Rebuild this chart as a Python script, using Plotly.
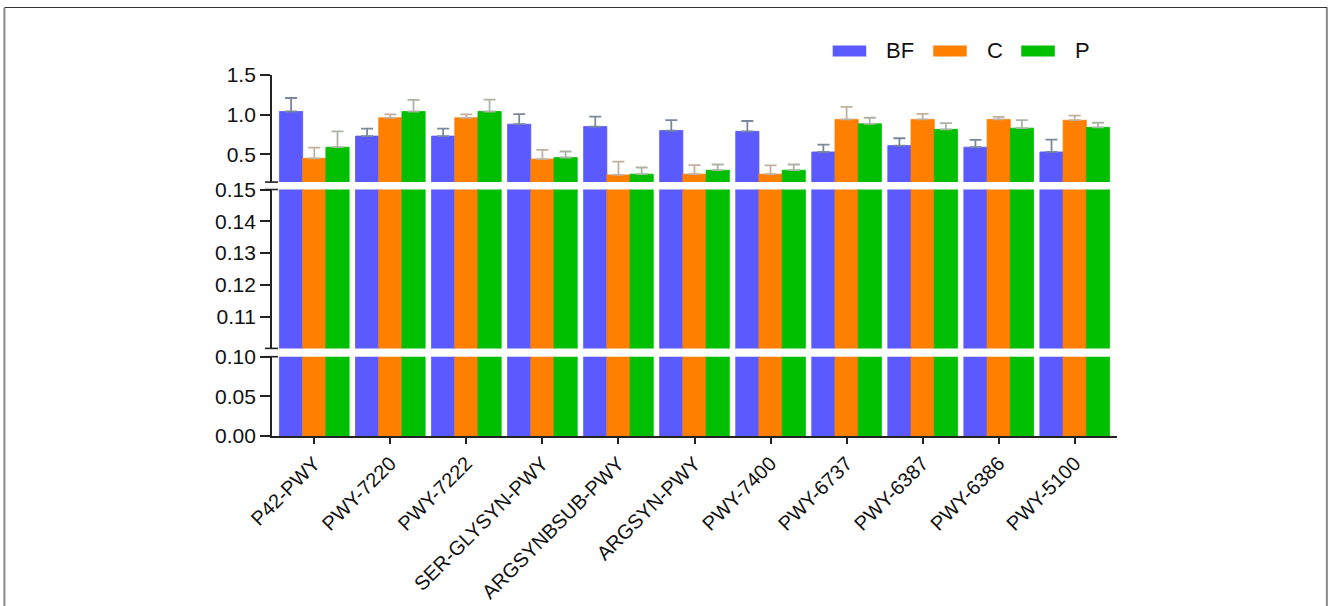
import plotly.graph_objects as go

# Pathway categories and group means / upper error (SD) per group
pathways = ["P42-PWY", "PWY-7220", "PWY-7222", "SER-GLYSYN-PWY", "ARGSYNBSUB-PWY",
            "ARGSYN-PWY", "PWY-7400", "PWY-6737", "PWY-6387", "PWY-6386", "PWY-5100"]

bf_mean = [1.04, 0.73, 0.73, 0.88, 0.85, 0.80, 0.79, 0.53, 0.61, 0.59, 0.53]
bf_err = [0.17, 0.095, 0.095, 0.126, 0.126, 0.131, 0.13, 0.092, 0.093, 0.092, 0.156]

c_mean = [0.45, 0.96, 0.96, 0.44, 0.24, 0.25, 0.25, 0.94, 0.94, 0.94, 0.93]
c_err = [0.135, 0.043, 0.043, 0.117, 0.169, 0.113, 0.11, 0.159, 0.07, 0.033, 0.059]

p_mean = [0.59, 1.04, 1.04, 0.46, 0.25, 0.30, 0.30, 0.885, 0.815, 0.83, 0.84]
p_err = [0.20, 0.146, 0.15, 0.076, 0.084, 0.072, 0.072, 0.076, 0.079, 0.101, 0.058]

groups = ["BF", "C", "P"]
means = [bf_mean, c_mean, p_mean]
errors = [bf_err, c_err, p_err]
colors = ["#5a5aff", "#ff7f00", "#00bf00"]
err_colors = ["#7a889c", "#c2b09e", "#aab4a4"]

FONT = "Liberation Sans, Arial, Helvetica, sans-serif"
W, H = 1328, 606
L, R, T, B = 272, 211.3, 75, 170
PW, PH = W - L - R, H - T - B


def px(x):
    return (x - L) / PW


def py(y):
    return (T + PH - y) / PH


xs = list(range(len(pathways)))

fig = go.Figure()
# three stacked panels of a broken y axis: y (0-0.10), y2 (0.10-0.15), y3 (0.15-1.5)
for yax in ["y", "y2", "y3"]:
    for g, m, e, c, ec in zip(groups, means, errors, colors, err_colors):
        err = None
        if yax == "y3":
            err = dict(type="data", array=e, symmetric=False,
                       arrayminus=[0] * len(e), color=ec, thickness=1.8, width=6)
        fig.add_trace(go.Bar(
            x=xs, y=m, name=g, xaxis="x", yaxis=yax,
            marker=dict(color=c, line=dict(color=c, width=0.8)),
            error_y=err, showlegend=False, offsetgroup=g,
        ))

axis_common = dict(showline=True, linecolor="#222", linewidth=1.8, ticks="outside",
                   ticklen=10, tickwidth=1.6, tickcolor="#222", showgrid=False,
                   zeroline=False, automargin=False,
                   tickfont=dict(family=FONT, size=21, color="#111"))

fig.update_layout(
    width=W, height=H,
    margin=dict(l=L, r=R, t=T, b=B),
    paper_bgcolor="white", plot_bgcolor="white",
    barmode="group", bargap=0.084, bargroupgap=0,
    xaxis=dict(range=[-0.556, 10.556], tickvals=xs, ticktext=pathways, tickangle=-45,
               showline=True, linecolor="#222", linewidth=1.8, ticks="outside",
               ticklen=6, tickwidth=1.5, tickcolor="#222", showgrid=False, zeroline=False,
               anchor="y", automargin=False,
               tickfont=dict(family=FONT, size=20, color="#111")),
    yaxis=dict(domain=[0, py(356.7)], range=[0, 0.10], tickvals=[0, 0.05, 0.10],
               tickformat=".2f", anchor="x", **axis_common),
    yaxis2=dict(domain=[py(348.4), py(189.5)], range=[0.10, 0.15],
                tickvals=[0.11, 0.12, 0.13, 0.14, 0.15], tickformat=".2f",
                anchor="x", **axis_common),
    yaxis3=dict(domain=[py(182.1), 1], range=[0.15, 1.5], tickvals=[0.5, 1.0, 1.5],
                tickformat=".1f", anchor="x", **axis_common),
)

shapes = []
# break marks on the y axis
for yb in [182.1, 189.5, 348.4, 356.7]:
    shapes.append(dict(type="line", xref="paper", yref="paper",
                       x0=px(265), x1=px(278), y0=py(yb), y1=py(yb),
                       line=dict(color="#222", width=1.6)))

# frame around the figure
shapes.append(dict(type="line", xref="paper", yref="paper", x0=px(4.5), x1=px(1327),
                   y0=py(7.5), y1=py(7.5), line=dict(color="#333", width=1.2)))
shapes.append(dict(type="line", xref="paper", yref="paper", x0=px(4.5), x1=px(4.5),
                   y0=py(8), y1=py(606), line=dict(color="#8a8a8a", width=2)))
shapes.append(dict(type="line", xref="paper", yref="paper", x0=px(1326.5), x1=px(1326.5),
                   y0=py(8), y1=py(606), line=dict(color="#8a8a8a", width=2)))

# legend swatches and labels
annotations = []
legend_items = [(832.5, 884), (933, 984.5), (1021, 1073)]
for (sx, tx), g, c in zip(legend_items, groups, colors):
    shapes.append(dict(type="rect", xref="paper", yref="paper",
                       x0=px(sx), x1=px(sx + 33.5), y0=py(56.5), y1=py(45.5),
                       fillcolor=c, line=dict(width=0)))
    annotations.append(dict(xref="paper", yref="paper", x=px(tx), y=py(51),
                            text=g, showarrow=False, xanchor="left", yanchor="middle",
                            font=dict(family=FONT, size=22, color="#111")))

fig.update_layout(shapes=shapes, annotations=annotations)
fig.write_html("out.html")
